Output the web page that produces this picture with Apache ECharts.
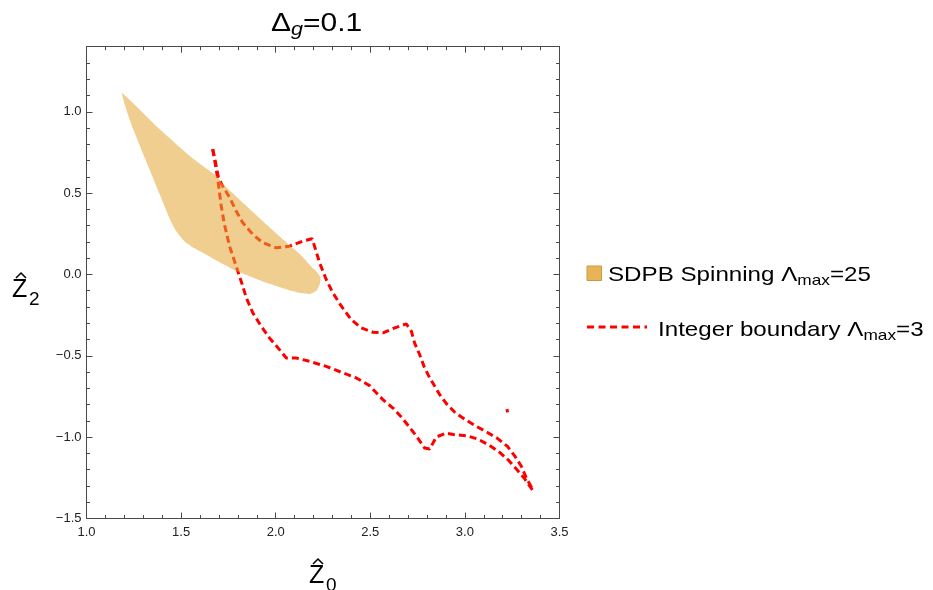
<!DOCTYPE html>
<html>
<head>
<meta charset="utf-8">
<script src="https://cdn.jsdelivr.net/npm/echarts@6/dist/echarts.min.js"></script>
<style>
html,body{margin:0;padding:0;background:#fff;}
#chart{width:933px;height:590px;}
</style>
</head>
<body>
<div id="chart"></div>
<script>
// SDPB spinning allowed region (boundary, [Z0, Z2])
var regionZ0 = [1.188,1.213,1.247,1.326,1.387,1.441,1.468,1.494,1.521,1.556,1.600,1.775,1.952,2.076,2.128,2.181,2.217,2.234,2.237,2.218,2.198,2.128,2.039,1.899,1.722,1.687,1.547,1.370];
var regionZ2 = [1.115,1.004,0.893,0.667,0.493,0.339,0.277,0.236,0.199,0.171,0.143,0.031,-0.051,-0.099,-0.114,-0.120,-0.099,-0.055,-0.018,0.015,0.037,0.125,0.215,0.363,0.554,0.605,0.727,0.911];

// Integer boundary, upper branch
var upperZ0 = [1.667,1.681,1.697,1.720,1.756,1.791,1.826,1.879,1.932,2.003,2.073,2.143,2.193,2.205,2.232,2.267,2.302,2.347,2.399,2.452,2.514,2.567,2.629,2.690,2.717,2.734,2.761,2.784,2.814,2.867,2.902,2.951,3.004,3.061,3.119,3.170,3.225,3.263,3.299,3.325,3.360];
var upperZ2 = [0.770,0.696,0.597,0.542,0.474,0.390,0.318,0.246,0.195,0.164,0.174,0.205,0.220,0.174,0.072,-0.031,-0.113,-0.195,-0.277,-0.328,-0.355,-0.359,-0.328,-0.304,-0.349,-0.421,-0.493,-0.565,-0.636,-0.739,-0.794,-0.852,-0.893,-0.934,-0.971,-1.006,-1.057,-1.115,-1.180,-1.252,-1.324];

// Integer boundary, lower branch
var lowerZ0 = [1.667,1.681,1.694,1.712,1.729,1.756,1.791,1.826,1.844,1.879,1.923,1.967,2.020,2.056,2.108,2.179,2.267,2.355,2.426,2.496,2.567,2.620,2.664,2.708,2.747,2.787,2.814,2.849,2.902,2.946,3.008,3.069,3.131,3.184,3.228,3.272,3.316,3.357];
var lowerZ2 = [0.770,0.677,0.585,0.421,0.308,0.174,0.051,-0.072,-0.142,-0.236,-0.318,-0.390,-0.462,-0.513,-0.513,-0.534,-0.565,-0.605,-0.636,-0.683,-0.770,-0.821,-0.876,-0.940,-0.999,-1.067,-1.073,-0.999,-0.975,-0.985,-0.991,-1.012,-1.051,-1.094,-1.139,-1.196,-1.256,-1.324];

// isolated fragment
var fragZ0 = [3.222,3.226];
var fragZ2 = [-0.828,-0.848];

var xTicks = [1.0,1.5,2.0,2.5,3.0,3.5];
var yTicks = [-1.5,-1.0,-0.5,0.0,0.5,1.0];

function zip(a,b){ return a.map(function(v,i){ return [v,b[i]]; }); }
function isMajor(v,list){ for (var i=0;i<list.length;i++){ if (Math.abs(v-list[i])<1e-6) return true; } return false; }
function fmt(v){ return (v < -1e-9 ? '\u2212' : '') + Math.abs(v).toFixed(1); }

var frameColor = '#4a4a4a';
var labelFont = 'Liberation Sans, Arial, sans-serif';

function mkAxis(kind, pos, major, showLabel, min, max, ticks){
  return {
    type:'value', position:pos, min:min, max:max, interval: major ? 0.5 : 0.1,
    axisLine:{show: major, onZero:false, lineStyle:{color:frameColor, width:1}},
    axisTick:{show:true, inside:true, length: major ? 6 : 3.5, lineStyle:{color:frameColor, width:1}},
    axisLabel:{show: showLabel, color:'#222', fontSize:13, fontFamily:labelFont, margin: kind==='x' ? 7 : 5,
      showMinLabel:true, showMaxLabel:true,
      formatter:function(v){ return isMajor(v,ticks) ? fmt(v) : ''; }},
    splitLine:{show:false}
  };
}

var chart = echarts.init(document.getElementById('chart'), null, {renderer:'canvas'});
var dash = {color:'#ff0000', width:3, type:[7,4], cap:'butt'};

function richText(x, y, main, sub, tail, size, subSize, subPad, sx, italicSub){
  return {type:'text', x:x, y:y, scaleX:sx, scaleY:1,
    style:{text:'{a|'+main+'}{s|'+sub+'}{a|'+tail+'}', x:0, y:0, verticalAlign:'middle', align:'left',
      rich:{a:{fontSize:size, fontFamily:labelFont, color:'#000'},
            s:{fontSize:subSize, fontFamily:labelFont, color:'#000', fontStyle: italicSub ? 'italic' : 'normal', padding:[subPad,0,0,0]}}}};
}

function hatName(zx, zy, sub){
  // zx,zy: left and top of the 'Z' glyph box
  return [
    {type:'text', left:zx, top:zy, style:{text:'Z', fontSize:25, fontFamily:labelFont, fill:'#000'}},
    {type:'polyline', shape:{points:[[zx+4, zy], [zx+9, zy-5], [zx+14, zy]]}, style:{stroke:'#000', lineWidth:1.5, fill:null}},
    {type:'text', left:zx+17, top:zy+12, style:{text:sub, fontSize:19, fontFamily:labelFont, fill:'#000'}}
  ];
}

var graphics = [
  richText(271, 24, '\u0394', 'g', '=0.1', 25, 18, 12, 1.2, true),
  {type:'rect', shape:{x:587, y:266, width:14.5, height:14.5}, style:{fill:'#E8B456', stroke:'#C9994A', lineWidth:1}},
  richText(608, 275, 'SDPB Spinning \u039B', 'max', '=25', 21, 15, 12, 1.15, false),
  {type:'line', shape:{x1:587, y1:327, x2:647, y2:327}, style:{stroke:'#ff0000', lineWidth:3, lineDash:[7,4.5]}},
  richText(658, 330, 'Integer boundary \u039B', 'max', '=3', 21, 15, 12, 1.15, false)
].concat(hatName(309, 564, '0')).concat(hatName(12, 278, '2'));

chart.setOption({
  animation:false,
  backgroundColor:'#fff',
  grid:{left:86.5, top:46.7, right:933-559.5, bottom:590-518.5, containLabel:false},
  xAxis:[
    mkAxis('x','bottom',true,true,1,3.5,xTicks),
    mkAxis('x','bottom',false,false,1,3.5,xTicks),
    mkAxis('x','top',true,false,1,3.5,xTicks),
    mkAxis('x','top',false,false,1,3.5,xTicks)
  ],
  yAxis:[
    mkAxis('y','left',true,true,-1.5,1.4,yTicks),
    mkAxis('y','left',false,false,-1.5,1.4,yTicks),
    mkAxis('y','right',true,false,-1.5,1.4,yTicks),
    mkAxis('y','right',false,false,-1.5,1.4,yTicks)
  ],
  series:[
    {type:'line', data:zip(upperZ0,upperZ2), showSymbol:false, symbol:'none', lineStyle:dash, z:2},
    {type:'line', data:zip(lowerZ0,lowerZ2), showSymbol:false, symbol:'none', lineStyle:dash, z:2},
    {type:'line', data:zip(fragZ0,fragZ2), showSymbol:false, symbol:'none', lineStyle:{color:'#ff0000', width:3, type:'solid', cap:'butt'}, z:2},
    {type:'custom', z:3, data:[0],
      renderItem:function(params, api){
        var pts = regionZ0.map(function(x,i){ return api.coord([x, regionZ2[i]]); });
        return {type:'polygon', shape:{points:pts, smooth:0.12},
          style:{fill:'rgba(227,165,51,0.55)', stroke:null}};
      }
    }
  ],
  graphic:graphics
});
</script>
</body>
</html>
